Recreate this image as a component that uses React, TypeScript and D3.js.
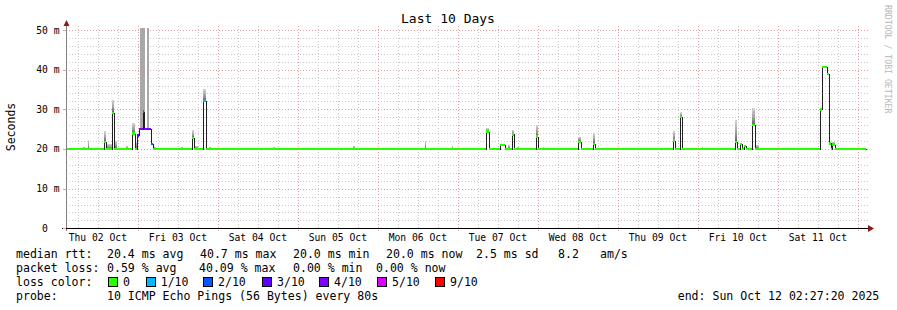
import React from "react";
import * as d3 from "d3";

// ---------- data ----------
const START = new Date(2025, 9, 2, 2, 27, 20);
const END = new Date(2025, 9, 12, 2, 27, 20);
const BASE_MS = 20.0;

// median rtt excursions (hours from START), ms, loss (out of 10)
const medStart = [11.4, 13.89, 19.8, 21.3, 21.99, 23.19, 23.49, 25.5, 37.8, 41.19, 126.0, 130.2, 133.8, 141.0, 153.69, 158.01, 182.01, 184.2, 200.79, 202.2, 203.4, 205.89, 226.2, 226.89, 228.39, 228.99, 229.8];
const medEnd = [12.0, 14.49, 20.61, 21.99, 23.19, 23.49, 25.5, 26.01, 38.49, 41.91, 126.9, 131.7, 134.49, 141.6, 154.41, 158.61, 182.7, 184.8, 201.39, 202.8, 204.0, 206.7, 226.89, 228.39, 228.99, 229.5, 230.7];
const medValue = [21.8, 29.1, 23.9, 23.4, 25.1, 29.4, 25.1, 21.2, 22.7, 32.1, 24.4, 21.0, 23.7, 23.1, 21.8, 21.3, 22.1, 28.0, 21.8, 21.2, 20.8, 26.0, 30.0, 40.7, 38.9, 21.4, 21.0];
const medLoss = [0, 0, 0, 3, 4, 5, 4, 2, 0, 1, 0, 0, 0, 0, 0, 0, 0, 0, 0, 0, 0, 0, 0, 0, 0, 0, 0];

// smoke (ping spread) spans: hours from START, low/high ms
const smokeStart = [5.1, 6.45, 11.4, 12.0, 13.89, 14.7, 18.0, 19.8, 20.61, 22.2, 24.3, 26.49, 34.5, 37.8, 38.49, 41.19, 42.9, 62.19, 86.1, 107.7, 115.8, 126.0, 132.6, 133.8, 135.3, 141.0, 143.01, 153.69, 158.01, 182.01, 184.2, 190.71, 200.79, 205.89, 206.91, 229.8];
const smokeEnd = [5.7, 6.9, 12.0, 13.8, 14.49, 15.21, 18.51, 20.61, 21.3, 23.7, 24.9, 27.0, 35.01, 38.49, 39.69, 41.91, 43.41, 62.7, 86.55, 108.0, 116.1, 126.9, 133.2, 134.49, 135.9, 141.6, 143.4, 154.41, 158.61, 182.7, 184.8, 191.1, 201.39, 206.7, 207.9, 230.7];
const smokeLow = [20, 20, 21.8, 20, 29.1, 20, 20, 23.9, 20, 25.1, 25.1, 20, 20, 22.7, 20, 32.1, 20, 20, 20, 20, 20, 24.4, 20, 23.7, 20, 23.1, 20, 21.8, 21.3, 22.1, 28.0, 20, 21.8, 26.0, 20, 21.0];
const smokeHigh = [20.6, 22.3, 24.5, 21.3, 32.3, 22.0, 20.8, 26.5, 21.8, 55, 55, 20.6, 20.6, 24.8, 20.8, 35.1, 20.6, 20.5, 20.8, 22.0, 20.8, 25.2, 21.0, 24.8, 20.5, 26.0, 20.5, 23.1, 24.0, 24.5, 29.2, 20.5, 27.3, 30.3, 21.0, 21.8];

const yTicks = [0, 10, 20, 30, 40, 50];
const lossLevels = [0, 1, 2, 3, 4, 5, 9];
const lossLabels = ["0", "1/10", "2/10", "3/10", "4/10", "5/10", "9/10"];
const lossColors = ["#26ff00", "#00b8ff", "#0059ff", "#5e00ff", "#7e00ff", "#dd00ff", "#ff0000"];

const title = "Last 10 Days";
const yLabel = "Seconds";
const watermark = "RRDTOOL / TOBI OETIKER";
const line1 = ["median rtt:", "20.4 ms avg", "40.7 ms max", "20.0 ms min", "20.0 ms now", "2.5 ms sd", "8.2", "am/s"];
const line2 = ["packet loss:", "0.59 % avg", "40.09 % max", "0.00 % min", "0.00 % now"];
const line3Head = "loss color:";
const line4 = ["probe:", "10 ICMP Echo Pings (56 Bytes) every 80s", "end: Sun Oct 12 02:27:20 2025"];

// ---------- layout ----------
const W = 897, H = 310;
const X0 = 66, X1 = 866, Y0 = 228.3, Y1 = 30;
const MONO = "DejaVu Sans Mono, monospace";
const line1X = [16, 107, 200, 293, 386, 476, 558, 600];
const line2X = [16, 107, 199, 293, 376];
const line3LabelX = [123, 160.7, 218, 277, 334, 392, 450];
const line4X = [16, 107, 677.7];

const hrs = (h: number) => new Date(START.getTime() + h * 3600e3);

export default function App() {
  const x = d3.scaleTime().domain([START, END]).range([X0, X1]);
  const y = d3.scaleLinear().domain([0, 50]).range([Y0, Y1]);

  const minorY = d3.range(0, 51, 2).filter((v) => v % 10 !== 0);
  const majorY = yTicks;
  const minorX = d3.timeHour.every(6)!.range(START, END).filter((d) => d.getHours() !== 0);
  const majorX = d3.timeDay.range(START, END);
  const labelDays = d3.timeDay
    .range(d3.timeDay.floor(START), END)
    .map((d) => d3.timeHour.offset(d, 12))
    .filter((d) => d > START && d < END);
  const fmt = d3.timeFormat("%a %d %b");

  // median segments
  const segs = medStart.map((s, i) => ({ s, e: medEnd[i], v: medValue[i], l: medLoss[i] }));
  const pts: [Date, number][] = [[START, BASE_MS]];
  let cursor = 0;
  const baseGaps: [number, number][] = [];
  segs.forEach((g, i) => {
    if (g.s > cursor + 1e-6) baseGaps.push([cursor, g.s]);
    pts.push([hrs(g.s), g.v]);
    const next = segs[i + 1];
    if (!next || Math.abs(next.s - g.e) > 1e-6) pts.push([hrs(g.e), BASE_MS]);
    cursor = g.e;
  });
  const totalH = (END.getTime() - START.getTime()) / 3600e3;
  baseGaps.push([cursor, totalH]);
  pts.push([END, BASE_MS]);
  const medLine = d3
    .line<[Date, number]>()
    .x((d) => Math.round(x(d[0])) + 0.5)
    .y((d) => Math.round(y(d[1])) + 0.5)
    .curve(d3.curveStepAfter)(pts);

  const SW = 2.4;
  const colorFor = (l: number) => lossColors[Math.max(0, lossLevels.indexOf(l))];

  return (
    <svg width={W} height={H} style={{ position: "fixed", left: 0, top: 0, background: "#fff" }} fontFamily={MONO}>
      <defs>
        <linearGradient id="smk" x1="0" y1="0" x2="0" y2="1">
          <stop offset="0" stopColor="#d4d4d4" />
          <stop offset="0.6" stopColor="#9a9a9a" />
          <stop offset="1" stopColor="#5e5e5e" />
        </linearGradient>
      </defs>
      <rect x={0} y={0} width={W} height={H} fill="#fff" />

      {/* grid */}
      <g strokeDasharray="1,2" strokeWidth={1} shapeRendering="crispEdges">
        {minorY.map((v) => (
          <line key={"my" + v} x1={X0} x2={868} y1={Math.round(y(v)) + 0.5} y2={Math.round(y(v)) + 0.5} stroke="#c8c8c8" />
        ))}
        {minorX.map((d, i) => (
          <line key={"mx" + i} x1={Math.round(x(d)) + 0.5} x2={Math.round(x(d)) + 0.5} y1={Y0} y2={26} stroke="#c8c8c8" />
        ))}
        {majorY.filter((v) => v > 0).map((v) => (
          <line key={"My" + v} x1={X0} x2={868} y1={Math.round(y(v)) + 0.5} y2={Math.round(y(v)) + 0.5} stroke="#e0a0a0" />
        ))}
        {majorX.map((d, i) => (
          <line key={"Mx" + i} x1={Math.round(x(d)) + 0.5} x2={Math.round(x(d)) + 0.5} y1={Y0 + 3} y2={26} stroke="#e0a0a0" />
        ))}
      </g>

      {/* smoke */}
      <g shapeRendering="crispEdges">
        {smokeStart.map((s, i) => {
          const top = Math.min(smokeHigh[i], 50.6);
          const yt = y(top);
          const yb = y(smokeLow[i]);
          const tall = smokeHigh[i] - smokeLow[i] > 15;
          return (
            <rect
              key={"s" + i}
              x={x(hrs(s))}
              width={Math.max(1, x(hrs(smokeEnd[i])) - x(hrs(s)))}
              y={yt}
              height={Math.max(1, yb - yt)}
              fill={tall ? "#a8a8a8" : "url(#smk)"}
            />
          );
        })}
      </g>

      {/* median black line */}
      <path d={medLine || ""} fill="none" stroke="#202020" strokeWidth={1} shapeRendering="crispEdges" />

      {/* loss coloured median markers */}
      <g shapeRendering="crispEdges">
        {baseGaps.map(([a, b], i) => (
          <rect key={"b" + i} x={x(hrs(a))} width={x(hrs(b)) - x(hrs(a))} y={y(BASE_MS) - SW / 2} height={SW} fill={lossColors[0]} />
        ))}
        {segs.map((g, i) => (
          <rect key={"m" + i} x={x(hrs(g.s))} width={x(hrs(g.e)) - x(hrs(g.s))} y={y(g.v) - SW / 2} height={SW} fill={colorFor(g.l)} />
        ))}
      </g>

      {/* axes */}
      <line x1={X0 + 0.5} x2={X0 + 0.5} y1={24} y2={231} stroke="#808080" shapeRendering="crispEdges" />
      <line x1={62} x2={869} y1={Math.round(Y0) + 0.5} y2={Math.round(Y0) + 0.5} stroke="#000" shapeRendering="crispEdges" />
      <polygon points={`${X0 - 2.5},26 ${X0 + 3.5},26 ${X0 + 0.5},20`} fill="#8b1a1a" />
      <polygon points={`868,225 868,232 874,228.5`} fill="#8b1a1a" />
      {majorY.map((v) => (
        <line key={"yt" + v} x1={63} x2={X0} y1={Math.round(y(v)) + 0.5} y2={Math.round(y(v)) + 0.5} stroke="#e0a0a0" shapeRendering="crispEdges" />
      ))}

      {/* tick labels */}
      <g fontSize={9.7} fill="#000">
        {yTicks.map((v) => (
          <text key={"yl" + v} x={v === 0 ? 59.5 - 2 * 5.84 : 59.5} y={y(v) + 3.5} textAnchor="end">
            {v === 0 ? "0" : `${v} m`}
          </text>
        ))}
        {labelDays.map((d, i) => (
          <text key={"xl" + i} x={x(d)} y={241} textAnchor="middle">
            {fmt(d)}
          </text>
        ))}
      </g>

      {/* title and axis label */}
      <text x={448} y={23} fontSize={13} textAnchor="middle" fill="#000">{title}</text>
      <text transform="translate(15,127) rotate(-90)" fontSize={11.5} textAnchor="middle" fill="#000">{yLabel}</text>
      <text transform="translate(885,5) rotate(90)" fontSize={8.2} fill="#b8b8b8">{watermark}</text>

      {/* legend */}
      <g fontSize={11.55} fill="#000" style={{ whiteSpace: "pre" }}>
        {line1.map((t, i) => (
          <text key={"l1" + i} x={line1X[i]} y={258}>{t}</text>
        ))}
        {line2.map((t, i) => (
          <text key={"l2" + i} x={line2X[i]} y={272}>{t}</text>
        ))}
        <text x={16} y={286}>{line3Head}</text>
        {lossLabels.map((t, i) => (
          <g key={"l3" + i}>
            <rect x={line3LabelX[i] - 14.5} y={277.5} width={9} height={9} fill={lossColors[i]} stroke="#000" strokeWidth={1} shapeRendering="crispEdges" />
            <text x={line3LabelX[i]} y={286}>{t}</text>
          </g>
        ))}
        {line4.map((t, i) => (
          <text key={"l4" + i} x={line4X[i]} y={300}>{t}</text>
        ))}
      </g>
    </svg>
  );
}
